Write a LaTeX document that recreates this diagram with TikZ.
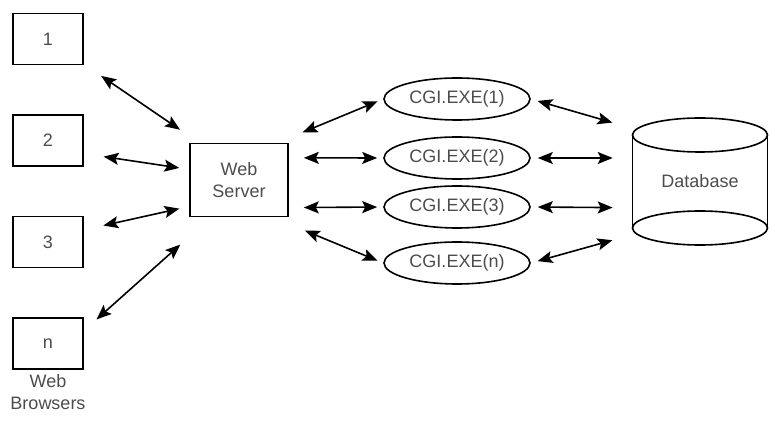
\documentclass[tikz,border=0pt]{standalone}
\usepackage{fontspec}
\setmainfont{Liberation Sans}
\usepackage{tikz}
\usetikzlibrary{positioning, arrows.meta, shapes.geometric}

\begin{document}
\begin{tikzpicture}[x=1pt, y=-1pt, line width=1.6pt,
  font=\fontsize{18}{22}\selectfont, text=black!70,
  >={Stealth[length=15pt, width=12pt, inset=3pt]}, node distance=49pt,
  client/.style={draw, minimum width=70pt, minimum height=51pt, inner sep=0pt},
  cgi/.style={draw, ellipse, minimum width=146pt, minimum height=42pt, inner sep=0pt}]
  \useasboundingbox (0,0) rectangle (772,427);
  % browsers
  \node[client] at (48,39) (b1) {1};
  \node[client, below=of b1] (b2) {2};
  \node[client, below=of b2] (b3) {3};
  \node[client, below=of b3] (bn) {n};
  \node[below=0pt of bn, align=center] (lbl) {Web\\ Browsers};
  \node[draw, minimum width=98pt, minimum height=73pt, align=center] at (239,180) (srv) {Web\\ Server};
  % cgi processes
  \node[cgi] at (457,99)  (c1) {CGI.EXE(1)};
  \node[cgi] at (457,158) (c2) {CGI.EXE(2)};
  \node[cgi] at (457,207) (c3) {CGI.EXE(3)};
  \node[cgi] at (457,263) (cn) {CGI.EXE(n)};
  % database
  \node[minimum width=135pt, minimum height=127pt] at (700,181.5) (db) {Database};
  \draw (700,135) ellipse [x radius=67.5pt, y radius=17pt];
  \draw (700,228) ellipse [x radius=67.5pt, y radius=17pt];
  \draw (632.5,135) -- (632.5,228) (767.5,135) -- (767.5,228);
  \foreach \a/\b/\s/\e in {b1.-35/srv.137/21pt/23pt, b2.-20/srv.168/20pt/10pt,
      b3.19/srv.-152/20pt/10pt, bn.20/srv.233/17pt/41pt,
      srv.44/c1.west/27pt/6pt, srv.24/c2.west/15pt/6pt,
      srv.-29/c3.west/15pt/6pt, srv.-48/cn.west/35pt/6pt,
      c1.east/db.142/7pt/20pt, c2.east/db.161/7pt/19pt,
      c3.east/db.-159/7pt/19pt, cn.east/db.-142/7pt/20pt}
     \draw[<->, shorten <=\s, shorten >=\e] (\a) -- (\b);
\end{tikzpicture}
\end{document}
